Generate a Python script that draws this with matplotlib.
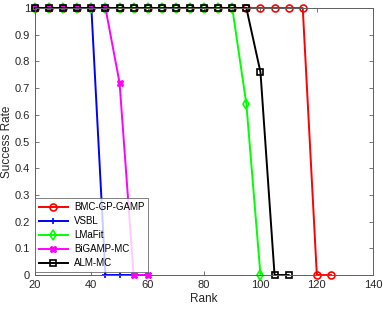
import matplotlib
matplotlib.use("Agg")
import matplotlib.pyplot as plt

plt.rcParams['font.family'] = ['Liberation Sans', 'DejaVu Sans']

x_bmc = [20, 25, 30, 35, 40, 45, 50, 55, 60, 65, 70, 75, 80, 85, 90, 95, 100, 105, 110, 115, 120, 125]
y_bmc = [1]*20 + [0, 0]
x_vsbl = [20, 25, 30, 35, 40, 45, 50, 55, 60]
y_vsbl = [1, 1, 1, 1, 1, 0, 0, 0, 0]
x_lmafit = [20, 25, 30, 35, 40, 45, 50, 55, 60, 65, 70, 75, 80, 85, 90, 95, 100]
y_lmafit = [1]*15 + [0.64, 0]
x_bigamp = [20, 25, 30, 35, 40, 45, 50, 55, 60]
y_bigamp = [1, 1, 1, 1, 1, 1, 0.72, 0, 0]
x_alm = [20, 25, 30, 35, 40, 45, 50, 55, 60, 65, 70, 75, 80, 85, 90, 95, 100, 105, 110]
y_alm = [1]*16 + [0.76, 0, 0]

fig = plt.figure(figsize=(3.83, 3.09), dpi=100)
ax = fig.add_axes([0.0914, 0.11, 0.883, 0.864])

lw = 1.4
ms = 5
common = dict(lw=lw, ms=ms, clip_on=False)
ax.plot(x_bmc, y_bmc, color='#ff0000', marker='o', mfc='none', mew=1.2, label='BMC-GP-GAMP', **common)
ax.plot(x_vsbl, y_vsbl, color='#0000ff', marker='+', mew=1.2, label='VSBL', **common)
ax.plot(x_lmafit, y_lmafit, color='#00ff00', marker='d', mfc='none', mew=1.2, label='LMaFit', **common)
ax.plot(x_bigamp, y_bigamp, color='#ff00ff', marker='X', mew=0.8, label='BiGAMP-MC', **common)
ax.plot(x_alm, y_alm, color='#000000', marker='s', mfc='none', mew=1.2, label='ALM-MC', **common)

ax.set_xlim(20, 140)
ax.set_ylim(0, 1)
ax.set_xticks([20, 40, 60, 80, 100, 120, 140])
ax.set_yticks([0, 0.1, 0.2, 0.3, 0.4, 0.5, 0.6, 0.7, 0.8, 0.9, 1])
ax.set_yticklabels(['0', '0.1', '0.2', '0.3', '0.4', '0.5', '0.6', '0.7', '0.8', '0.9', '1'])
ax.tick_params(direction='in', top=True, right=True, labelsize=8, colors='#606060',
               labelcolor='#262626', length=3, width=0.6)
for s in ax.spines.values():
    s.set_color('#606060')
    s.set_linewidth(0.7)
ax.set_xlabel('Rank', fontsize=8.5, color='#262626', labelpad=2)
ax.set_ylabel('Success Rate', fontsize=8.5, color='#262626', labelpad=1)

leg = ax.legend(loc='lower left', bbox_to_anchor=(0, 0.012), fontsize=7, frameon=True,
                fancybox=False, borderaxespad=0,
                handlelength=3, borderpad=0.4, labelspacing=0.4, handletextpad=0.6)
leg.get_frame().set_edgecolor('#606060')
leg.get_frame().set_linewidth(0.7)

fig.savefig('out.png', dpi=100)
